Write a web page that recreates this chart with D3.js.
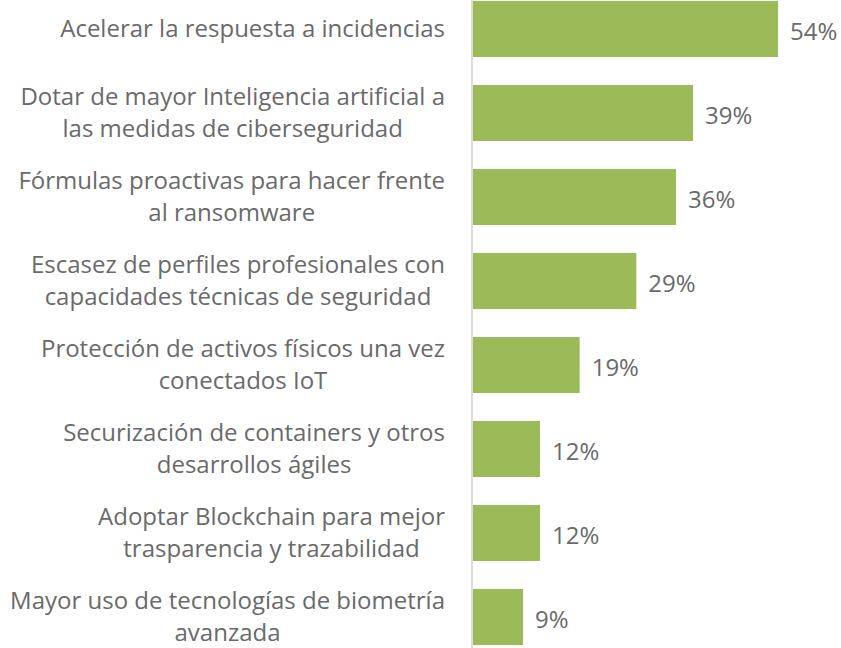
<!DOCTYPE html>
<html>
<head>
<meta charset="utf-8">
<script src="https://cdn.jsdelivr.net/npm/d3@7"></script>
<style>
  body { margin: 0; background: #fff; }
  text { font-family: "Open Sans", sans-serif; fill: #6a6a6a; }
</style>
</head>
<body>
<div id="viz"></div>
<script>
const width = 841;
const height = 648;

// data
const categories = [
    ["Acelerar la respuesta a incidencias"],
    ["Dotar de mayor Inteligencia artificial a", "las medidas de ciberseguridad"],
    ["Fórmulas proactivas para hacer frente", "al ransomware"],
    ["Escasez de perfiles profesionales con", "capacidades técnicas de seguridad"],
    ["Protección de activos físicos una vez", "conectados IoT"],
    ["Securización de containers y otros", "desarrollos ágiles"],
    ["Adoptar Blockchain para mejor", "trasparencia y trazabilidad"],
    ["Mayor uso de tecnologías de biometría", "avanzada"]
];
const values = [54, 39, 36, 29, 19, 12, 12, 9];

const svg = d3.select("#viz")
    .append("svg")
    .attr("width", width)
    .attr("height", height);

const axisX = 472;
const labelRight = 445;
const fontSize = 24;
const lineH = 32;

const xScale = d3.scaleLinear()
    .domain([0, 54])
    .range([axisX, axisX + 306]);

const yScale = d3.scaleBand()
    .domain(d3.range(categories.length))
    .range([-13, 659])
    .paddingInner(1 / 3)
    .paddingOuter(1 / 6);

// axis line
svg.append("line")
    .attr("x1", axisX).attr("x2", axisX)
    .attr("y1", 0).attr("y2", height)
    .attr("stroke", "#d0d0d0")
    .attr("stroke-width", 1.5);

svg.selectAll("rect.bar")
    .data(values)
    .enter()
    .append("rect")
    .attr("class", "bar")
    .attr("x", xScale(0) + 1)
    .attr("y", (d, i) => yScale(i))
    .attr("width", d => xScale(d) - xScale(0) - 1)
    .attr("height", yScale.bandwidth())
    .attr("fill", "#9bbb59");

// value labels
svg.selectAll("text.val")
    .data(values)
    .enter()
    .append("text")
    .attr("class", "val")
    .attr("x", d => xScale(d) + 12)
    .attr("y", (d, i) => yScale(i) + yScale.bandwidth() / 2 + 1)
    .attr("dominant-baseline", "central")
    .attr("font-size", fontSize)
    .text(d => d + "%");

// category labels: lines centred inside a block that is right-aligned to the axis
const lab = svg.selectAll("text.cat")
    .data(categories)
    .enter()
    .append("text")
    .attr("class", "cat")
    .attr("text-anchor", "middle")
    .attr("font-size", fontSize)
    .attr("y", (d, i) => yScale(i) + yScale.bandwidth() / 2);

lab.selectAll("tspan")
    .data(d => d.map((t, j) => ({ t: t, j: j, n: d.length })))
    .enter()
    .append("tspan")
    .attr("dy", d => d.j === 0 ? (-(d.n - 1) * lineH / 2 + 8) : lineH)
    .text(d => d.t);

lab.each(function() {
    const spans = d3.select(this).selectAll("tspan");
    let maxW = 0;
    spans.each(function() { maxW = Math.max(maxW, this.getComputedTextLength()); });
    spans.attr("x", labelRight - maxW / 2);
});
</script>
</body>
</html>
